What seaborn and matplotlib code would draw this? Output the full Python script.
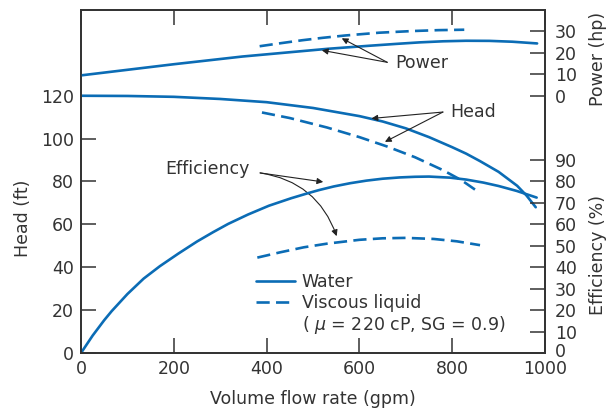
import matplotlib
matplotlib.use('Agg')
import matplotlib.pyplot as plt
import matplotlib.transforms as mtransforms
import seaborn as sns
from matplotlib.lines import Line2D

# water (solid) and viscous liquid (dashed) pump curves
q_head_water = [0, 100, 200, 300, 400, 500, 600, 650, 700, 750, 800, 830, 860, 900, 940, 960, 980]
head_water = [120, 119.9, 119.5, 118.5, 117, 114.3, 110.5, 108, 104.8, 100.7, 96, 93, 89.5, 84.5, 78, 73.5, 68]
q_head_visc = [390, 450, 530, 600, 660, 720, 780, 820, 856]
head_visc = [112.2, 109.6, 105.2, 100.7, 96.3, 91.3, 85.3, 80.6, 75.2]

q_eff_water = [0, 25, 50, 66, 100, 135, 170, 210, 250, 285, 317, 360, 405, 453, 490,
               513, 545, 580, 615, 650, 687, 720, 750, 795, 830, 867, 900, 939, 982]
eff_water = [0, 8.1, 15.3, 19.5, 27.5, 34.7, 40.5, 46.4, 52, 56.4, 60.2, 64.6, 68.7, 72.2, 74.6,
             76, 77.7, 79.2, 80.4, 81.3, 81.9, 82.2, 82.3, 81.8, 80.9, 79.5, 77.9, 75.6, 72.5]
q_eff_visc = [380, 430, 480, 530, 600, 650, 700, 760, 810, 860]
eff_visc = [44.5, 47, 49.3, 51, 52.8, 53.5, 53.7, 53.2, 52.1, 50.3]

q_pow_water = [0, 100, 200, 348, 450, 532, 620, 680, 730, 780, 830, 880, 930, 983]
pow_water = [9.5, 12.1, 14.7, 18.3, 20.3, 21.9, 23.3, 24.2, 24.9, 25.4, 25.65, 25.6, 25.2, 24.4]
q_pow_visc = [385, 430, 477, 520, 569, 642, 716, 770, 826]
pow_visc = [23.1, 24.5, 25.9, 27.0, 28.1, 29.4, 30.2, 30.6, 30.8]

x_ticks = [0, 200, 400, 600, 800, 1000]
head_ticks = [0, 20, 40, 60, 80, 100, 120]
eff_ticks = [0, 10, 20, 30, 40, 50, 60, 70, 80, 90]
pow_ticks = [0, 10, 20, 30]

blue = '#0b6cb5'
ink = '#333333'
dash = (0, (5, 2.4))

sns.set_style('ticks')
plt.rcParams['font.family'] = ['DejaVu Sans']
plt.rcParams['font.size'] = 12.5

fig = plt.figure(figsize=(6.08, 4.11), dpi=100)
ax = fig.add_axes([81 / 608, 1 - 353 / 411, 464 / 608, 343 / 411])
ax_eff = ax.twinx()
ax_pow = ax.twinx()

# head
sns.lineplot(x=q_head_water, y=head_water, ax=ax, color=blue, lw=1.9)
sns.lineplot(x=q_head_visc, y=head_visc, ax=ax, color=blue, lw=1.9, linestyle=dash)
# efficiency
sns.lineplot(x=q_eff_water, y=eff_water, ax=ax_eff, color=blue, lw=1.9)
sns.lineplot(x=q_eff_visc, y=eff_visc, ax=ax_eff, color=blue, lw=1.9, linestyle=dash)
# power
sns.lineplot(x=q_pow_water, y=pow_water, ax=ax_pow, color=blue, lw=1.9)
sns.lineplot(x=q_pow_visc, y=pow_visc, ax=ax_pow, color=blue, lw=1.9, linestyle=dash)

ax.set_xlim(0, 1000)
ax.set_ylim(0, 160)
ax_eff.set_ylim(0, 160)
ax_pow.set_ylim(-120, 40)

ax.set_xticks(x_ticks)
ax.set_yticks(head_ticks)
ax_eff.set_yticks(eff_ticks)
ax_pow.set_yticks(pow_ticks)

for a in (ax, ax_eff, ax_pow):
    for s in a.spines.values():
        s.set_color(ink)
        s.set_linewidth(1.1)
    a.tick_params(direction='in', length=11, width=1.1, color=ink,
                  labelcolor=ink, labelsize=12.5)
    a.set_ylabel('')
ax.tick_params(axis='x', top=True, pad=5)
ax.tick_params(axis='y', right=False, pad=5)
ax_eff.tick_params(axis='y', pad=7)
ax_pow.tick_params(axis='y', pad=7)

# nudge the 0 % label up a little so it clears the 1000 label
zero_lab = ax_eff.yaxis.get_major_ticks()[0].label2
zero_lab.set_transform(zero_lab.get_transform()
                       + mtransforms.ScaledTranslation(0, 2 / 72, fig.dpi_scale_trans))

ax.set_xlabel('Volume flow rate (gpm)', color=ink, fontsize=12.5, labelpad=9)
ax.text(-0.125, 0.394, 'Head (ft)', transform=ax.transAxes, rotation=90,
        ha='center', va='center', color=ink, fontsize=12.5)
ax.text(1.114, 0.857, 'Power (hp)', transform=ax.transAxes, rotation=90,
        ha='center', va='center', color=ink, fontsize=12.5)
ax.text(1.114, 0.286, 'Efficiency (%)', transform=ax.transAxes, rotation=90,
        ha='center', va='center', color=ink, fontsize=12.5)

arrow = dict(arrowstyle='-|>', lw=0.8, color='#222222', mutation_scale=9,
             shrinkA=0, shrinkB=0)

# Power labels
ax_pow.text(677, 15.1, 'Power', ha='left', va='center', color=ink, fontsize=12.5)
ax_pow.annotate('', xy=(519, 21.2), xytext=(660, 15.6), arrowprops=arrow)
ax_pow.annotate('', xy=(562, 26.8), xytext=(660, 15.6), arrowprops=arrow)

# Head labels
ax_pow.text(795, -7.6, 'Head', ha='left', va='center', color=ink, fontsize=12.5)
ax.annotate('', xy=(626, 109.4), xytext=(780, 112.4), arrowprops=arrow)
ax.annotate('', xy=(655, 98.5), xytext=(780, 112.4), arrowprops=arrow)

# Efficiency labels
ax.text(182, 86, 'Efficiency', ha='left', va='center', color=ink, fontsize=12.5)
ax.annotate('', xy=(522, 79.8), xytext=(386, 84), arrowprops=arrow)
ax.annotate('', xy=(551, 54.5), xytext=(386, 84),
            arrowprops=dict(arrow, connectionstyle='arc3,rad=-0.3'))

handles = [Line2D([], [], color=blue, lw=1.9),
           Line2D([], [], color=blue, lw=1.9, linestyle=dash),
           Line2D([], [], color='none')]
labels = ['Water', 'Viscous liquid', '( $\\mu$ = 220 cP, SG = 0.9)']
leg = ax_pow.legend(handles, labels, loc='upper left', bbox_to_anchor=(0.377, 0.233),
                    frameon=False, handlelength=2.25, handletextpad=0.38,
                    labelspacing=0.15, borderpad=0, borderaxespad=0, fontsize=12.5)
for t in leg.get_texts():
    t.set_color(ink)

fig.savefig('out.png', dpi=100)
